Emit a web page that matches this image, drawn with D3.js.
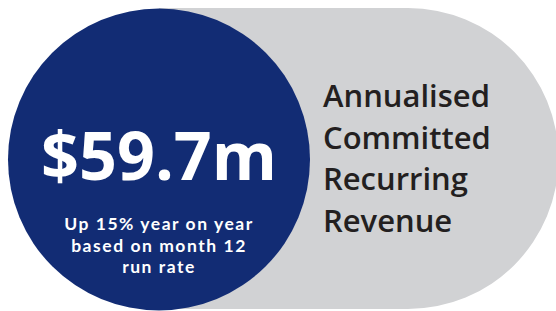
<!DOCTYPE html>
<html>
<head>
<meta charset="utf-8">
<script src="https://cdn.jsdelivr.net/npm/d3@7"></script>
<style>
  html, body { margin: 0; padding: 0; background: #fff; }
  svg { display: block; }
  text { font-family: "Open Sans", "Noto Sans", sans-serif; }
</style>
</head>
<body>
<svg id="chart" width="556" height="311"></svg>
<script>
const headline = "$59.7m";
const subLines = ["Up 15% year on year", "based on month 12", "run rate"];
const labelLines = ["Annualised", "Committed", "Recurring", "Revenue"];

const width = 556, height = 311;
const svg = d3.select('#chart');

const navy = '#122c74';
const grey = '#d1d2d4';
const ink = '#231f20';

const cx = 159, cy = 159.5, r = 151;

// grey pill behind: flat on the left (hidden by circle), round on the right
const pillTop = 8, pillBot = 309, pr = (pillBot - pillTop) / 2, rcx = 408;
let p = d3.path();
p.moveTo(cx, pillTop);
p.lineTo(rcx, pillTop);
p.arc(rcx, pillTop + pr, pr, -Math.PI / 2, Math.PI / 2);
p.lineTo(cx, pillBot);
p.closePath();
svg.append('path').attr('d', p.toString()).attr('fill', grey);

// navy circle
svg.append('circle')
  .attr('cx', cx).attr('cy', cy).attr('r', r)
  .attr('fill', navy);

// fit a text to a target width
function fit(sel, w) {
  sel.each(function () {
    let len = this.getComputedTextLength();
    let fs = parseFloat(d3.select(this).attr('font-size'));
    d3.select(this).attr('font-size', fs * w / len);
  });
}

svg.append('text')
  .attr('x', cx).attr('y', 180)
  .attr('text-anchor', 'middle')
  .attr('font-size', 64).attr('font-weight', 700)
  .attr('fill', '#fff')
  .text(headline)
  .call(fit, 236);

// sub lines: fixed size so lines don't collide, letter-spacing to reach width
const subY = d3.scaleLinear().domain([0, 1]).range([230, 251.5]);
let subs = svg.selectAll('.sub').data(subLines)
  .enter().append('text')
  .attr('class', 'sub')
  .attr('x', cx)
  .attr('y', (d, i) => subY(i))
  .attr('text-anchor', 'middle')
  .attr('font-size', 17.5).attr('font-weight', 700)
  .style('font-family', 'Lato, "Open Sans", sans-serif')
  .attr('fill', '#fff')
  .text(d => d);
let firstSub = subs.filter((d, i) => i == 0);
let s0 = firstSub.node().getComputedTextLength();
let ls = Math.max(0, (188 - s0) / (subLines[0].length - 1));
subs.attr('letter-spacing', ls);

const labY = d3.scaleLinear().domain([0, 1]).range([107, 148.5]);
let labs = svg.selectAll('.lab').data(labelLines)
  .enter().append('text')
  .attr('class', 'lab')
  .attr('x', 323)
  .attr('y', (d, i) => labY(i))
  .attr('font-size', 30).attr('font-weight', 600)
  .attr('fill', ink)
  .text(d => d);
let l0 = labs.filter((d, i) => i == 0).node().getComputedTextLength();
labs.attr('font-size', 30 * 167 / l0);
</script>
</body>
</html>
